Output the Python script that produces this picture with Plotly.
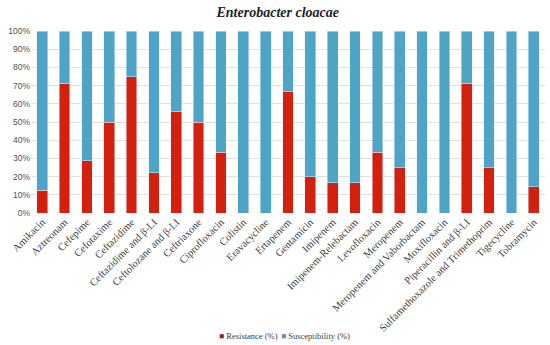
import plotly.graph_objects as go

categories = ["Amikacin", "Aztreonam", "Cefepime", "Cefotaxime", "Ceftazidime",
              "Ceftazidime and β-LI", "Ceftolozane and β-LI", "Ceftriaxone",
              "Ciprofloxacin", "Colistin", "Eravacycline", "Ertapenem", "Gentamicin",
              "Imipenem", "Imipenem-Relebactam", "Levofloxacin", "Meropenem",
              "Meropenem and Vaborbactam", "Moxifloxacin", "Piperacillin and β-LI",
              "Sulfamethoxazole and Trimethoprim", "Tigecycline", "Tobramycin"]
resistance = [12.5, 71.4, 28.6, 50.0, 75.0, 22.2, 55.6, 50.0, 33.3, 0, 0, 66.7, 20.0,
              16.7, 16.7, 33.3, 25.0, 0, 0, 71.4, 25.0, 0, 14.3]
susceptibility = [round(100 - r, 1) for r in resistance]
series_names = ["Resistance (%)", "Susceptibility (%)"]

RED = "#d4200e"
RED_LEG = "#9a2c10"
BLUE = "#4ea4c6"
BLUE_LEG = "#5f8fc0"

fig = go.Figure()
fig.add_trace(go.Bar(x=categories, y=resistance, name=series_names[0],
                     marker=dict(color=RED), showlegend=False))
fig.add_trace(go.Bar(x=categories, y=susceptibility, name=series_names[1],
                     marker=dict(color=BLUE), showlegend=False))

# compact legend (small square + label), as in the reference
legend_x = [0.362, 0.4825]
for name, col, lx in zip(series_names, [RED_LEG, BLUE_LEG], legend_x):
    fig.add_annotation(text=f'<span style="color:{col}">■</span> {name}',
                       xref="paper", yref="paper", x=lx, y=-0.676,
                       xanchor="left", yanchor="middle", showarrow=False,
                       font=dict(family="Liberation Serif", size=8.5, color="#404040"))

fig.update_layout(
    barmode="stack", bargap=0.52,
    width=550, height=345,
    margin=dict(l=31, r=5, t=31, b=132, autoexpand=False),
    paper_bgcolor="white", plot_bgcolor="white",
    title=dict(text="<b><i>Enterobacter cloacae</i></b>", x=0.505, xanchor="center",
               y=0.978, yanchor="top",
               font=dict(family="Liberation Serif", size=14, color="#222")),
    showlegend=False,
)
fig.update_xaxes(tickangle=-45, tickfont=dict(family="Liberation Serif", size=10.5, color="#404040"),
                 showline=False, ticks="", automargin=False)
fig.update_yaxes(range=[0, 100], dtick=10, ticksuffix="%", gridcolor="#e0e0e0",
                 tickfont=dict(family="Liberation Sans", size=8.5, color="#505050"),
                 zeroline=False, automargin=False)

fig.write_html("out.html", config={"displayModeBar": False},
               post_script="document.body.style.margin='0';document.body.style.overflow='hidden';")
